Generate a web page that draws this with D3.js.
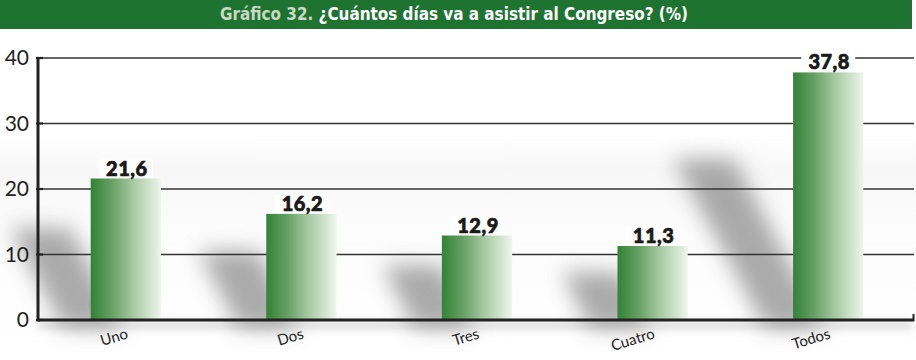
<!DOCTYPE html>
<html>
<head>
<meta charset="utf-8">
<script src="https://cdn.jsdelivr.net/npm/d3@7"></script>
<style>
  html, body { margin: 0; padding: 0; background: #fff; }
  svg { display: block; }
</style>
</head>
<body>
<svg id="chart" width="916" height="360"></svg>
<script>
// Chart data
const categories = ["Uno", "Dos", "Tres", "Cuatro", "Todos"];
const values = [21.6, 16.2, 12.9, 11.3, 37.8];
const valueLabels = ["21,6", "16,2", "12,9", "11,3", "37,8"];
const yTicks = [0, 10, 20, 30, 40];
const titlePrefix = "Gráfico 32.";
const titleText = " ¿Cuántos días va a asistir al Congreso? (%)";

const W = 916, H = 360;
const svg = d3.select("#chart");
const defs = svg.append("defs");

// Plot geometry
const plotLeft = 38, plotRight = 916, plotTop = 58, plotBottom = 320;

const x = d3.scaleBand()
  .domain(categories)
  .range([plotLeft, plotRight])
  .paddingInner(0.6)
  .paddingOuter(0.3);

const y = d3.scaleLinear().domain([0, 40]).range([plotBottom, plotTop]);

// Bar fill: dark green on the left fading to near white on the right
const grad = defs.append("linearGradient").attr("id", "barGrad")
  .attr("x1", "0%").attr("x2", "100%").attr("y1", "0%").attr("y2", "0%");
[[0, "#338238"], [0.3, "#66a064"], [0.6, "#a6c9a2"], [0.85, "#d3e5d0"], [1, "#eef6ec"]]
  .forEach(([o, c]) => grad.append("stop").attr("offset", o).attr("stop-color", c));

// Faint grey band in the plot background
const bg = defs.append("linearGradient").attr("id", "bgGrad")
  .attr("x1", "0").attr("x2", "0").attr("y1", "0").attr("y2", "1");
[[0, "#ffffff"], [0.32, "#ffffff"], [0.42, "#f7f7f7"], [0.6, "#fcfcfc"], [1, "#ffffff"]]
  .forEach(([o, c]) => bg.append("stop").attr("offset", o).attr("stop-color", c));

const blur = defs.append("filter").attr("id", "soft")
  .attr("x", "-50%").attr("y", "-50%").attr("width", "200%").attr("height", "200%");
blur.append("feGaussianBlur").attr("stdDeviation", 10.5);

const blurSmall = defs.append("filter").attr("id", "softSmall")
  .attr("x", "-10%").attr("y", "-300%").attr("width", "120%").attr("height", "700%");
blurSmall.append("feGaussianBlur").attr("stdDeviation", 4);

// Background
svg.append("rect").attr("x", 0).attr("y", 30).attr("width", W).attr("height", H - 30)
  .attr("fill", "url(#bgGrad)");

// Title bar
svg.append("rect").attr("x", 0).attr("y", 0).attr("width", 912).attr("height", 29)
  .attr("fill", "#1e7331");
const title = svg.append("text")
  .attr("x", 454).attr("y", 20)
  .attr("text-anchor", "middle")
  .attr("font-family", "'Liberation Sans Narrow', 'DejaVu Sans Condensed', sans-serif")
  .attr("font-weight", "bold")
  .attr("font-size", 17)
  .attr("textLength", 468)
  .attr("lengthAdjust", "spacingAndGlyphs");
title.append("tspan").attr("fill", "#c9d9c3").text(titlePrefix);
title.append("tspan").attr("fill", "#ffffff").text(titleText);

// Cast shadows of the bars, slanting up to the left
const shadows = svg.append("g").attr("filter", "url(#soft)").attr("opacity", 0.62);
categories.forEach((c, i) => {
  const h = plotBottom - y(values[i]);
  const x0 = x(c);
  const topY = plotBottom - 0.65 * h;
  const shift = 0.37 * h;
  const pts = [
    [x0 - 28, plotBottom + 8],
    [x0 + 32, plotBottom + 8],
    [x0 + 32 - shift, topY],
    [x0 - 28 - shift, topY]
  ];
  shadows.append("path")
    .attr("d", d3.line()(pts) + "Z")
    .attr("fill", "#777");
});

// Soft shadow under the baseline
svg.append("rect")
  .attr("x", plotLeft).attr("y", plotBottom + 2).attr("width", plotRight - plotLeft - 4).attr("height", 6)
  .attr("fill", "#999").attr("opacity", 0.45).attr("filter", "url(#softSmall)");

// Gridlines
svg.append("g").selectAll("line")
  .data(yTicks.filter(t => t > 0))
  .join("line")
  .attr("x1", plotLeft).attr("x2", 914)
  .attr("y1", d => y(d)).attr("y2", d => y(d))
  .attr("stroke", "#333").attr("stroke-width", 1.5);

// Y axis
const yAxis = svg.append("g")
  .attr("transform", `translate(${plotLeft},0)`)
  .call(d3.axisLeft(y).tickValues(yTicks).tickSize(0).tickPadding(9));
yAxis.select(".domain").remove();
yAxis.selectAll("text")
  .attr("font-family", "Lato, 'Open Sans', sans-serif")
  .attr("font-size", 21)
  .attr("fill", "#222");
svg.append("g").selectAll("line")
  .data(yTicks)
  .join("line")
  .attr("x1", plotLeft - 2).attr("x2", plotLeft + 5)
  .attr("y1", d => y(d)).attr("y2", d => y(d))
  .attr("stroke", "#222").attr("stroke-width", 2.2);
svg.append("line")
  .attr("x1", plotLeft).attr("x2", plotLeft)
  .attr("y1", plotTop - 1).attr("y2", plotBottom + 1.5)
  .attr("stroke", "#222").attr("stroke-width", 3);

// Bars
svg.append("g").selectAll("rect")
  .data(categories)
  .join("rect")
  .attr("x", d => x(d))
  .attr("width", x.bandwidth())
  .attr("y", (d, i) => y(values[i]))
  .attr("height", (d, i) => plotBottom - y(values[i]))
  .attr("fill", "url(#barGrad)");

// X axis baseline with end tick
svg.append("line")
  .attr("x1", plotLeft).attr("x2", 914)
  .attr("y1", plotBottom).attr("y2", plotBottom)
  .attr("stroke", "#222").attr("stroke-width", 3);
svg.append("line")
  .attr("x1", 913.5).attr("x2", 913.5)
  .attr("y1", plotBottom - 6).attr("y2", plotBottom + 1)
  .attr("stroke", "#222").attr("stroke-width", 2);

// Category labels, tilted
svg.append("g").selectAll("text")
  .data(categories)
  .join("text")
  .attr("transform", d => `translate(${x(d) + x.bandwidth() / 2 + 3},${plotBottom + 18}) rotate(-17)`)
  .attr("text-anchor", "end")
  .attr("font-family", "Lato, 'Open Sans', sans-serif")
  .attr("font-size", 15)
  .attr("fill", "#222")
  .text(d => d);

// Value labels; the plate keeps gridlines from running through the text
const vl = svg.append("g");
categories.forEach((c, i) => {
  const cx = x(c) + x.bandwidth() / 2;
  const ty = y(values[i]);
  vl.append("rect")
    .attr("x", cx - 27).attr("y", ty - 19).attr("width", 54).attr("height", 18)
    .attr("fill", "#fff");
  vl.append("text")
    .attr("x", cx + 1).attr("y", ty - 3)
    .attr("text-anchor", "middle")
    .attr("font-family", "Lato, sans-serif")
    .attr("font-weight", 900)
    .attr("font-size", 20)
    .attr("fill", "#1a1a1a")
    .attr("stroke", "#1a1a1a")
    .attr("stroke-width", 0.7)
    .attr("letter-spacing", 0.5)
    .text(valueLabels[i]);
});
</script>
</body>
</html>
